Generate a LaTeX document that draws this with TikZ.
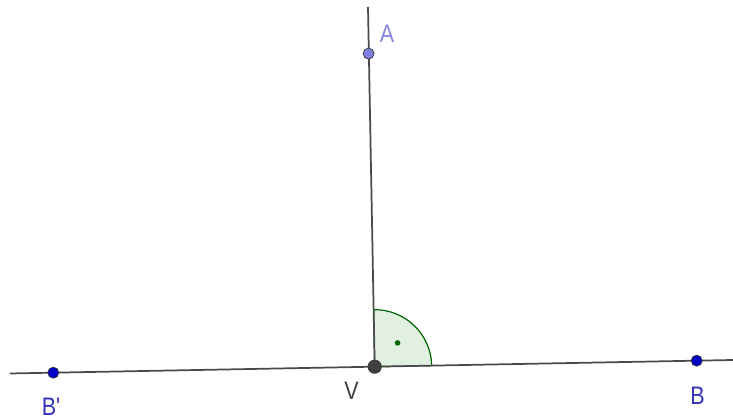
\documentclass[tikz,border=0pt]{standalone}
\usepackage{fontspec}
\setmainfont{Liberation Sans}
\usetikzlibrary{calc}
\definecolor{LineGray}{HTML}{4A4A4A}
\definecolor{PointBlue}{HTML}{0000C8}
\definecolor{PointLilac}{HTML}{7F7FE0}
\definecolor{LabelBlue}{HTML}{3333BB}
\definecolor{LabelLilac}{HTML}{8585E0}
\definecolor{LabelGray}{HTML}{404040}
\definecolor{AngleFill}{HTML}{E2F0E2}
\definecolor{AngleEdge}{HTML}{006400}
\tikzset{
  pt/.style={circle,draw=black!80,line width=0.5pt,inner sep=0pt,minimum size=8.3pt},
  lbl/.style={inner sep=0pt,font=\fontsize{19}{22}\selectfont},
  geoline/.style={LineGray,line width=1.3pt},
}
\begin{document}
\begin{tikzpicture}[x=0.75pt,y=0.75pt]
  \useasboundingbox (0,0) rectangle (733,420);
  \fill[white] (0,0) rectangle (733,420);
  \coordinate (Lend) at (10,46.5);
  \coordinate (Rend) at (733,60);
  \coordinate (Top) at (368,413);
  \coordinate (Vc) at (374.7,53.3);
  % right angle at V
  \filldraw[fill=AngleFill,draw=AngleEdge,line width=0.9pt]
    (Vc) -- ++(1.07:57) arc[start angle=1.07,end angle=91.07,radius=57] -- cycle;
  \fill[AngleEdge] ($(Vc)+(46.07:33)$) circle (2.8);
  \draw[geoline] (Lend) -- (Rend);
  \draw[geoline] (Vc) -- (Top);
  % points
  \node[pt,fill=PointLilac] (A) at (368.6,366.4) {};
  \node[pt,fill=PointBlue] (B) at (696.7,59.3) {};
  \node[pt,fill=PointBlue] (Bp) at (53.3,47.3) {};
  \node[pt,fill=LabelGray,minimum size=10pt] (V) at (Vc) {};
  % labels
  \node[lbl,LabelLilac] (lA) at (387,386) {\scalebox{0.85}[1]{A}};
  \node[lbl,LabelBlue] (lB) at (697.5,24) {\scalebox{0.85}[1]{B}};
  \node[lbl,LabelBlue] (lBp) at (51,13) {\scalebox{0.85}[1]{B\textquotesingle}};
  \node[lbl,LabelGray] (lV) at (351.5,29) {\scalebox{0.85}[1]{V}};
\end{tikzpicture}
\end{document}
